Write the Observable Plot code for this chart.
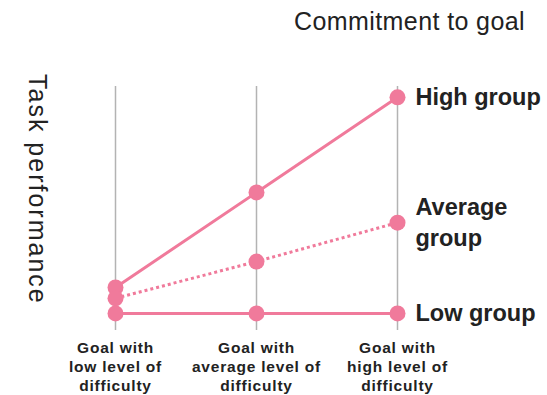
<!DOCTYPE html>
<html>
<head>
<meta charset="utf-8">
<script src="https://cdn.jsdelivr.net/npm/d3@7"></script>
<script src="https://cdn.jsdelivr.net/npm/@observablehq/plot@0.6"></script>
<style>
  html, body { margin: 0; padding: 0; background: #fff; }
  #figure { position: relative; width: 547px; height: 395px; font-family: "Liberation Sans", Arial, sans-serif; color: #222; }
  #title { position: absolute; right: 22px; top: 7px; font-size: 25px; letter-spacing: 0.4px; white-space: nowrap; }
  #ylabel { position: absolute; left: 23px; top: 74px; writing-mode: vertical-rl; font-size: 25px; letter-spacing: 2px; white-space: nowrap; }
  #figure svg { position: absolute; left: 0; top: 0; }
  #figure svg g[aria-label="x-axis tick label"] text { letter-spacing: 0.8px; }
</style>
</head>
<body>
<div id="figure">
  <div id="title">Commitment to goal</div>
  <div id="ylabel">Task performance</div>
</div>
<script>
// Goal difficulty categories (x axis)
const difficulty = [
  "Goal with\nlow level of\ndifficulty",
  "Goal with\naverage level of\ndifficulty",
  "Goal with\nhigh level of\ndifficulty"
];

// Commitment groups and their labels
const groups = ["High", "Average", "Low"];
const groupLabels = ["High group", "Average\ngroup", "Low group"];

// Task performance per group across difficulty levels (relative units)
const highValues = [1.2, 5.6, 10];
const averageValues = [0.7, 2.4, 4.2];
const lowValues = [0, 0, 0];

const seriesValues = {High: highValues, Average: averageValues, Low: lowValues};
const rows = groups.flatMap(g => difficulty.map((d, i) => ({group: g, difficulty: d, value: seriesValues[g][i]})));
const lastRows = groups.map((g, i) => ({group: g, label: groupLabels[i], difficulty: difficulty[difficulty.length - 1], value: seriesValues[g][difficulty.length - 1]}));

const pink = "#f07a9b";

const chart = Plot.plot({
  width: 547,
  height: 395,
  marginTop: 86,
  marginBottom: 65,
  marginLeft: 115,
  marginRight: 150,
  style: {fontFamily: "'Liberation Sans', Arial, sans-serif", color: "#222", background: "transparent"},
  x: {type: "point", domain: difficulty, padding: 0},
  y: {domain: [-0.79, 10.5], axis: null},
  marks: [
    Plot.ruleX(difficulty, {stroke: "#b3b3b3", strokeWidth: 1.5}),
    Plot.axisX({tickSize: 0, tickPadding: 9, fontSize: 15.5, fontWeight: "bold", lineHeight: 1.23, fill: "#222", label: null}),
    Plot.line(rows.filter(d => d.group !== "Average"), {x: "difficulty", y: "value", z: "group", stroke: pink, strokeWidth: 3}),
    Plot.line(rows.filter(d => d.group === "Average"), {x: "difficulty", y: "value", stroke: pink, strokeWidth: 3, strokeDasharray: "3,3", strokeLinecap: "butt"}),
    Plot.dot(rows, {x: "difficulty", y: "value", r: 8, fill: pink}),
    Plot.text(lastRows, {x: "difficulty", y: "value", text: "label", dx: 18, dy: -2, textAnchor: "start", lineAnchor: "middle", fontSize: 23.5, fontWeight: "bold", lineHeight: 1.3, fill: "#222"})
  ]
});

document.getElementById("figure").appendChild(chart);
</script>
</body>
</html>
